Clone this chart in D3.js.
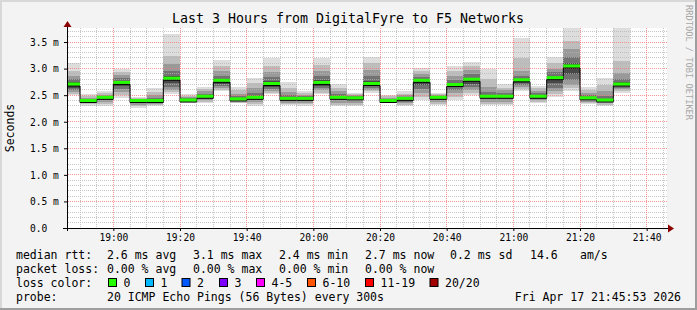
<!DOCTYPE html>
<html>
<head>
  <style>
    body { margin: 0; background: #f3f3f3; }
    text { font-family: "DejaVu Sans Mono", monospace; }
  </style>
</head>
<body>
  <svg id="chart"></svg>
  <script src="https://d3js.org/d3.v7.min.js"></script>
  <script>
    // 5 minute steps, start of each step
    var stepTimes = ["18:45","18:50","18:55","19:00","19:05","19:10","19:15","19:20","19:25","19:30",
      "19:35","19:40","19:45","19:50","19:55","20:00","20:05","20:10","20:15","20:20",
      "20:25","20:30","20:35","20:40","20:45","20:50","20:55","21:00","21:05","21:10",
      "21:15","21:20","21:25","21:30"];

    // median rtt per step (ms)
    var median = [2.71,2.40,2.46,2.74,2.40,2.40,2.82,2.41,2.48,2.78,2.43,2.46,2.72,2.44,2.44,2.74,2.46,2.45,2.72,2.40,
      2.44,2.78,2.46,2.70,2.80,2.48,2.48,2.79,2.48,2.83,3.05,2.45,2.41,2.71];

    // sorted ping times (ms): lower edges of smoke bands
    var p01 = [2.50,2.30,2.30,2.44,2.25,2.29,2.52,2.35,2.35,2.58,2.35,2.30,2.52,2.31,2.30,2.52,2.29,2.29,2.55,2.35,
      2.29,2.41,2.31,2.41,2.50,2.31,2.31,2.58,2.35,2.46,2.58,2.34,2.30,2.55];
    var p03 = [2.53,2.33,2.34,2.50,2.29,2.31,2.56,2.36,2.37,2.60,2.36,2.33,2.55,2.33,2.33,2.55,2.32,2.32,2.57,2.36,
      2.32,2.47,2.34,2.47,2.54,2.34,2.34,2.61,2.37,2.52,2.63,2.36,2.32,2.58];
    var p05 = [2.56,2.35,2.38,2.56,2.32,2.33,2.60,2.37,2.40,2.63,2.38,2.37,2.58,2.36,2.36,2.59,2.36,2.36,2.60,2.37,
      2.35,2.55,2.37,2.54,2.59,2.38,2.38,2.65,2.40,2.58,2.70,2.38,2.35,2.61];
    var p07 = [2.60,2.37,2.41,2.62,2.35,2.36,2.65,2.38,2.43,2.67,2.40,2.41,2.62,2.39,2.39,2.63,2.40,2.40,2.63,2.38,
      2.38,2.62,2.40,2.60,2.65,2.42,2.42,2.69,2.43,2.64,2.79,2.41,2.37,2.64];
    var p09 = [2.64,2.38,2.43,2.68,2.38,2.38,2.72,2.39,2.45,2.71,2.41,2.43,2.66,2.41,2.41,2.68,2.43,2.43,2.67,2.39,
      2.41,2.70,2.43,2.65,2.71,2.45,2.45,2.73,2.45,2.72,2.90,2.43,2.39,2.67];
    // upper edges of smoke bands
    var p12 = [2.74,2.41,2.47,2.76,2.41,2.42,2.86,2.42,2.50,2.81,2.45,2.49,2.76,2.46,2.46,2.78,2.48,2.46,2.76,2.41,
      2.45,2.80,2.47,2.73,2.83,2.50,2.50,2.81,2.50,2.86,3.10,2.47,2.43,2.74];
    var p14 = [2.80,2.43,2.49,2.82,2.42,2.45,2.95,2.44,2.53,2.87,2.48,2.55,2.84,2.50,2.48,2.86,2.52,2.48,2.86,2.43,
      2.47,2.85,2.49,2.79,2.90,2.56,2.54,2.86,2.54,2.93,3.22,2.51,2.48,2.80];
    var p16 = [2.86,2.45,2.51,2.88,2.43,2.50,3.09,2.46,2.57,2.95,2.53,2.63,2.93,2.56,2.51,2.96,2.57,2.50,2.97,2.45,
      2.50,2.90,2.51,2.87,2.97,2.66,2.59,2.95,2.58,3.00,3.36,2.55,2.57,2.92];
    var p18 = [2.95,2.48,2.54,2.94,2.45,2.56,3.24,2.49,2.61,3.05,2.59,2.72,3.05,2.64,2.54,3.07,2.63,2.52,3.10,2.48,
      2.53,2.96,2.53,2.95,3.05,2.80,2.64,3.20,2.63,3.10,3.52,2.59,2.70,3.15];
    var p20 = [3.10,2.52,2.58,2.99,2.47,2.63,3.65,2.52,2.66,3.17,2.65,2.82,3.20,2.74,2.58,3.19,2.71,2.55,3.22,2.51,
      2.57,3.02,2.55,3.04,3.12,3.00,2.71,3.57,2.68,3.22,3.77,2.65,2.83,3.77];

    var yTicks = [0, 0.5, 1.0, 1.5, 2.0, 2.5, 3.0, 3.5];
    var xTickLabels = ["19:00","19:20","19:40","20:00","20:20","20:40","21:00","21:20","21:40"];

    var lossLabels = ["0","1","2","3","4-5","6-10","11-19","20/20"];
    var lossColors = ["#26ff00","#00b8ff","#0059ff","#7e00ff","#ff00ff","#ff5500","#ff0000","#a10000"];

    var width = 697, height = 310;
    var plotL = 67, plotR = 667, plotT = 28, plotB = 228;

    function toDate(s) {
      var p = s.split(":");
      return new Date(2026, 3, 17, +p[0], +p[1], 0);
    }

    var svg = d3.select("#chart").attr("width", width).attr("height", height);

    // background and frame
    svg.append("rect").attr("width", width).attr("height", height).attr("fill", "#f3f3f3");
    svg.append("rect").attr("x", 0).attr("y", 0).attr("width", width).attr("height", 2).attr("fill", "#d8d8d8");
    svg.append("rect").attr("x", 0).attr("y", 0).attr("width", 2).attr("height", height).attr("fill", "#d8d8d8");
    svg.append("rect").attr("x", 0).attr("y", height - 2).attr("width", width).attr("height", 2).attr("fill", "#9e9e9e");
    svg.append("rect").attr("x", width - 2).attr("y", 0).attr("width", 2).attr("height", height).attr("fill", "#9e9e9e");

    var x = d3.scaleTime()
      .domain([new Date(2026, 3, 17, 18, 46, 6), new Date(2026, 3, 17, 21, 46, 6)])
      .range([plotL, plotR]);
    var y = d3.scaleLinear().domain([0, 3.764]).range([plotB, plotT]);

    svg.append("rect").attr("x", plotL).attr("y", plotT)
      .attr("width", plotR - plotL).attr("height", plotB - plotT).attr("fill", "#fff");

    svg.append("clipPath").attr("id", "plot")
      .append("rect").attr("x", plotL).attr("y", plotT).attr("width", plotR - plotL).attr("height", plotB - plotT);

    var steps = stepTimes.map(function(s, i) {
      var t0 = toDate(s);
      return { t0: t0, t1: d3.timeMinute.offset(t0, 5), i: i };
    });

    // smoke, outer band first
    var bands = [
      [p01, p20, "#dddddd"],
      [p03, p18, "#bdbdbd"],
      [p05, p16, "#999999"],
      [p07, p14, "#727272"],
      [p09, p12, "#484848"]
    ];
    var smoke = svg.append("g").attr("clip-path", "url(#plot)");
    bands.forEach(function(b) {
      smoke.append("g").selectAll("rect")
        .data(steps)
        .enter().append("rect")
        .attr("x", function(d) { return x(d.t0); })
        .attr("width", function(d) { return x(d.t1) - x(d.t0); })
        .attr("y", function(d) { return y(b[1][d.i]); })
        .attr("height", function(d) { return y(b[0][d.i]) - y(b[1][d.i]); })
        .attr("fill", b[2])
        .attr("shape-rendering", "crispEdges");
    });

    // grid (dotted lines)
    var grid = svg.append("g");
    var t0 = x.domain()[0], t1 = x.domain()[1];
    var majorT = xTickLabels.map(toDate);
    var minorT = d3.timeMinute.range(t0, t1).filter(function(t) {
      return t.getMinutes() % 5 === 0 && t.getMinutes() % 20 !== 0;
    });
    var minorY = d3.range(1, 38).map(function(k) { return k / 10; })
      .filter(function(v) { return Math.round(v * 10) % 5 !== 0; });

    function hLines(vals, color, op) {
      grid.append("g").selectAll("line").data(vals)
        .enter().append("line")
        .attr("x1", plotL + 1).attr("x2", plotR)
        .attr("y1", function(d) { return Math.floor(y(d)) + 0.5; })
        .attr("y2", function(d) { return Math.floor(y(d)) + 0.5; })
        .attr("stroke", color).attr("stroke-opacity", op).attr("stroke-dasharray", "1 1");
    }
    function vLines(vals, color, op) {
      grid.append("g").selectAll("line").data(vals)
        .enter().append("line")
        .attr("y1", plotT).attr("y2", plotB)
        .attr("x1", function(d) { return Math.floor(x(d)) + 0.5; })
        .attr("x2", function(d) { return Math.floor(x(d)) + 0.5; })
        .attr("stroke", color).attr("stroke-opacity", op).attr("stroke-dasharray", "1 1");
    }
    hLines(minorY, "#b4b4b4", 0.75);
    vLines(minorT, "#b4b4b4", 0.75);
    hLines(yTicks.slice(1), "#ff7070", 0.75);
    vLines(majorT, "#ff7070", 0.75);

    // median: black step line + green loss bar
    var med = svg.append("g").attr("clip-path", "url(#plot)");
    var medPts = steps.map(function(d) { return [d.t0, median[d.i]]; });
    medPts.push([steps[steps.length - 1].t1, median[median.length - 1]]);
    med.append("path")
      .attr("d", d3.line()
        .x(function(d) { return x(d[0]); })
        .y(function(d) { return y(d[1]) + 2; })
        .curve(d3.curveStepAfter)(medPts))
      .attr("fill", "none").attr("stroke", "#000").attr("stroke-width", 1);
    med.selectAll(".loss").data(steps)
      .enter().append("rect")
      .attr("x", function(d) { return x(d.t0); })
      .attr("width", function(d) { return x(d.t1) - x(d.t0); })
      .attr("y", function(d) { return y(median[d.i]) - 1.5; })
      .attr("height", 3)
      .attr("fill", lossColors[0]);

    // axes
    var yAxis = svg.append("g")
      .attr("transform", "translate(" + plotL + ",0)")
      .call(d3.axisLeft(y).tickValues(yTicks).tickSize(3)
        .tickFormat(function(d) { return d === 0 ? "0.0" : d.toFixed(1) + " m"; }));
    yAxis.select(".domain").remove();
    yAxis.selectAll("text")
      .attr("text-anchor", "start").attr("x", 30 - plotL).attr("dy", "0.35em")
      .style("font-family", "DejaVu Sans Mono").style("font-size", "9.6px").attr("fill", "#000");

    var xAxis = svg.append("g")
      .attr("transform", "translate(0," + plotB + ")")
      .call(d3.axisBottom(x).tickValues(majorT).tickSize(3)
        .tickFormat(d3.timeFormat("%H:%M")));
    xAxis.select(".domain").remove();
    xAxis.selectAll("text").attr("y", 6).attr("dy", "0.71em")
      .style("font-family", "DejaVu Sans Mono").style("font-size", "9.6px").attr("fill", "#000");

    svg.append("line").attr("x1", plotL + 0.5).attr("x2", plotL + 0.5).attr("y1", plotB + 3).attr("y2", 24)
      .attr("stroke", "#000");
    svg.append("line").attr("x1", plotL - 4).attr("x2", 670).attr("y1", plotB + 0.5).attr("y2", plotB + 0.5)
      .attr("stroke", "#000");
    svg.append("path").attr("d", "M63.5,27L71.5,27L67.5,21Z").attr("fill", "#8b0000");
    svg.append("path").attr("d", "M668,224.5L668,232.5L674,228.5Z").attr("fill", "#8b0000");

    // titles
    svg.append("text").attr("x", 348).attr("y", 23).attr("text-anchor", "middle")
      .style("font-size", "13.3px").text("Last 3 Hours from DigitalFyre to F5 Networks");
    svg.append("text").attr("transform", "translate(14,128) rotate(-90)").attr("text-anchor", "middle")
      .style("font-size", "11.5px").text("Seconds");
    svg.append("text").attr("transform", "translate(686,5) rotate(90)")
      .style("font-size", "8.7px").attr("fill", "#a8a8a8").text("RRDTOOL / TOBI OETIKER");

    // legend
    var lg = svg.append("g").style("font-size", "11.5px").attr("fill", "#000");
    function put(xp, yp, s, anchor) {
      lg.append("text").attr("x", xp).attr("y", yp).attr("text-anchor", anchor || "start")
        .attr("xml:space", "preserve").text(s);
    }
    put(16, 259, "median rtt:");
    put(107, 259, "2.6 ms avg");
    put(193, 259, "3.1 ms max");
    put(279, 259, "2.4 ms min");
    put(365, 259, "2.7 ms now");
    put(450, 259, "0.2 ms sd");
    put(530, 259, "14.6");
    put(580, 259, "am/s");

    put(16, 272.5, "packet loss:");
    put(107, 272.5, "0.00 % avg");
    put(193, 272.5, "0.00 % max");
    put(279, 272.5, "0.00 % min");
    put(365, 272.5, "0.00 % now");

    put(16, 286.5, "loss color:");
    var swX = [108.5, 145.5, 182, 219.5, 256.5, 307.5, 365.5, 430];
    lossLabels.forEach(function(l, i) {
      lg.append("rect").attr("x", swX[i]).attr("y", 278.5).attr("width", 8).attr("height", 8)
        .attr("fill", lossColors[i]).attr("stroke", "#000").attr("stroke-width", 1);
      put(swX[i] + 15, 286.5, l);
    });

    put(16, 300.5, "probe:");
    put(107, 300.5, "20 ICMP Echo Pings (56 Bytes) every 300s");
    put(681, 300.5, "Fri Apr 17 21:45:53 2026", "end");
  </script>
</body>
</html>
